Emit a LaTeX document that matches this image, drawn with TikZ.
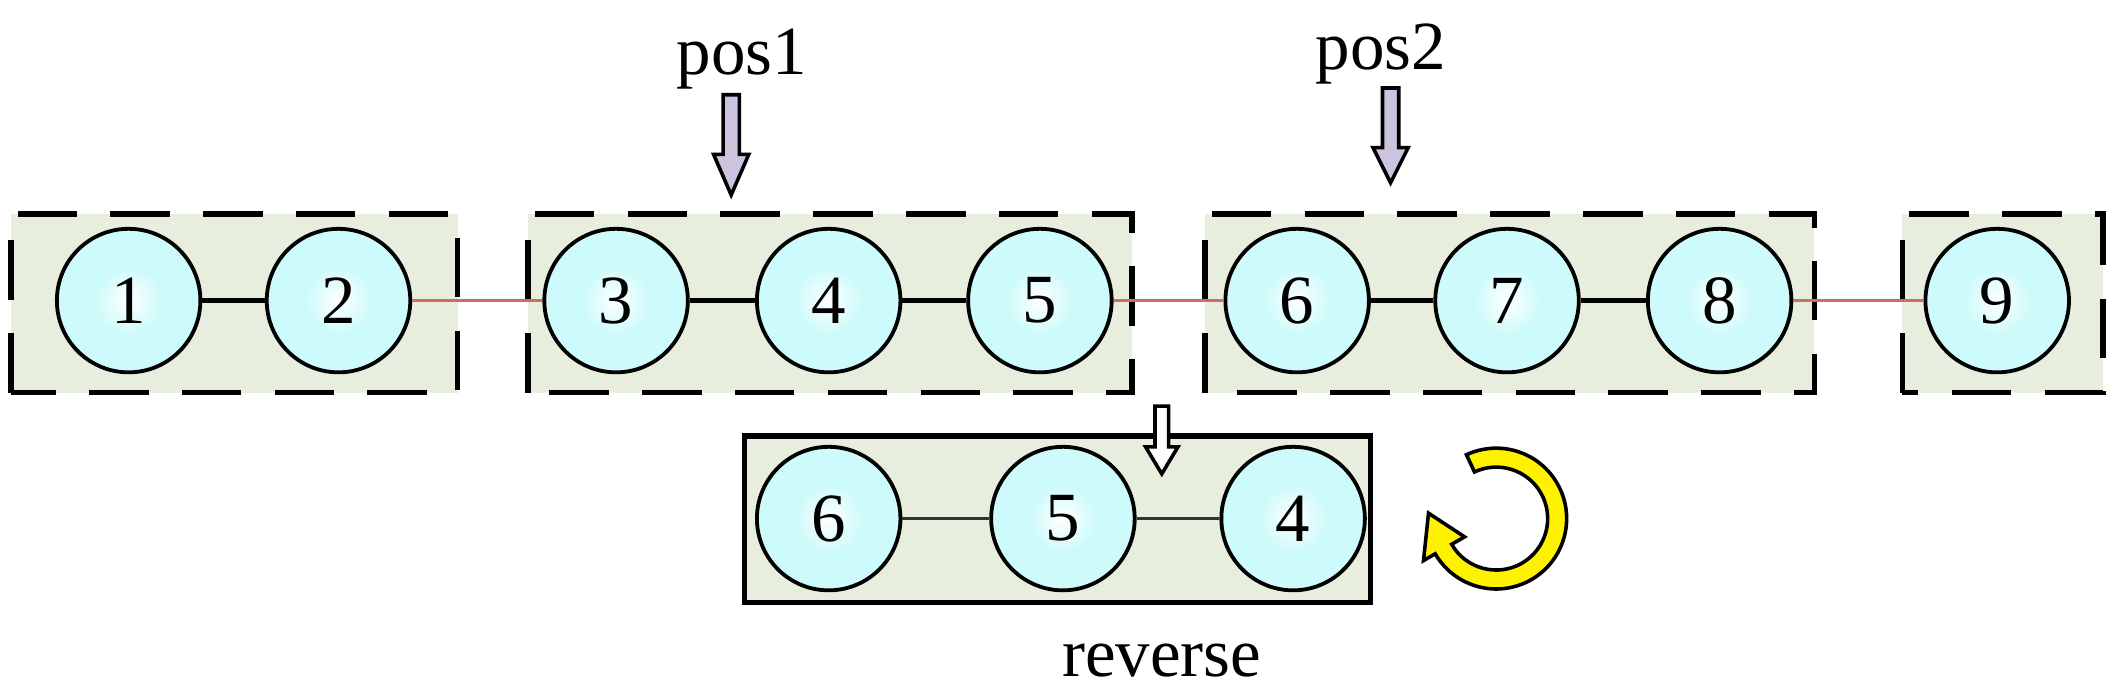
\documentclass[tikz,border=0pt]{standalone}
\usepackage{fontspec}
\setmainfont{Liberation Serif}
\definecolor{grpfill}{RGB}{232,238,222}
\definecolor{ballin}{RGB}{205,250,250}
\definecolor{ballout}{RGB}{95,140,140}
\definecolor{redl}{RGB}{205,110,100}
\definecolor{lav}{RGB}{204,196,222}
\pgfdeclareradialshading{myball}{\pgfpoint{0bp}{0bp}}{color(0bp)=(white);color(12bp)=(ballin);color(36bp)=(ballin);color(46bp)=(ballout);color(50bp)=(ballout)}
\begin{document}
\begin{tikzpicture}[x=0.02cm,y=0.02cm,
  ball/.style={circle,minimum size=106*0.02cm,inner sep=0pt,draw=black,line width=1.6pt,
    shading=myball,
    font=\fontsize{29}{34}\selectfont},
  grp/.style={fill=grpfill,draw=black,line width=2.3pt,dash pattern=on 25pt off 14pt},
  link/.style={line width=2.2pt,black},
  redlink/.style={line width=1.6pt,redl},
  thin/.style={line width=1.5pt,black!80},
  lbl/.style={font=\fontsize{29}{34}\selectfont},
  blk/.style={draw=black,line width=1.5pt}]
\useasboundingbox (0,0) rectangle (1562,516);
% groups
\draw[grp] (8,226) rectangle (338,358);
\draw[grp] (390,226) rectangle (836,358);
\draw[grp] (890,226) rectangle (1340,358);
\draw[grp] (1405,226) rectangle (1553,358);
\draw[fill=grpfill,line width=2.3pt] (550,71) rectangle (1012,194);
% balls
\foreach \n/\x in {1/95,2/250,3/455,4/612,5/768,6/958,7/1113,8/1270,9/1475}
  \node[ball] (c\n) at (\x,294) {\n};
\node[ball] (r6) at (612,133) {6};
\node[ball] (r5) at (785,133) {5};
\node[ball] (r4) at (955,133) {4};
% links
\draw[link] (c1)--(c2); \draw[link] (c3)--(c4); \draw[link] (c4)--(c5);
\draw[link] (c6)--(c7); \draw[link] (c7)--(c8);
\draw[redlink] (c2)--(c3); \draw[redlink] (c5)--(c6); \draw[redlink] (c8)--(c9);
\draw[thin] (r6)--(r5); \draw[thin] (r5)--(r4);
% labels
\node[lbl] (p1) at (548,472) {pos1};
\node[lbl] (p2) at (1020,476) {pos2};
\node[lbl] (rev) at (858,28) {reverse};
% block arrows
\draw[blk,fill=lav] (534,446)--(546,446)--(546,402)--(553,402)--(540,372)--(527,402)--(534,402)--cycle;
\draw[blk,fill=lav] (1021,451)--(1033,451)--(1033,407)--(1040,407)--(1027,381)--(1014,407)--(1021,407)--cycle;
\draw[blk,fill=white] (853,216)--(863,216)--(863,186)--(870,186)--(858,166)--(846,186)--(853,186)--cycle;
% rotation arrow
\begin{scope}[shift={(1105,133)}]
\draw[line width=1.5pt,fill=yellow] (115:52) arc[start angle=115,end angle=-150,radius=52]
  -- (-150:62) -- (-50,4) -- (-150:27) -- (-150:38)
  arc[start angle=-150,end angle=115,radius=38] -- cycle;
\end{scope}
\end{tikzpicture}
\end{document}
